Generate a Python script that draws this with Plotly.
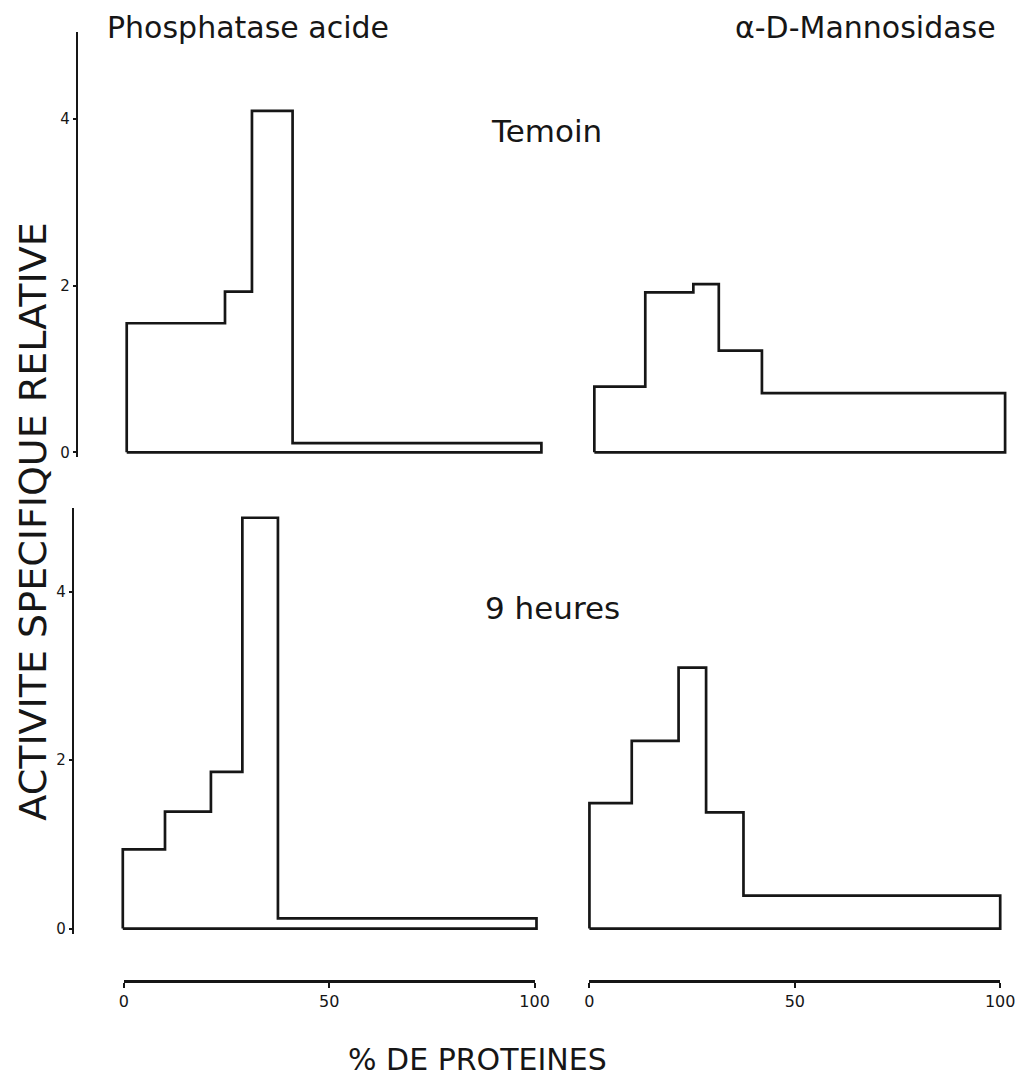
import plotly.graph_objects as go

# ---------------- data ----------------
tl_edges = [0, 23.7, 30.2, 40.0, 100]
tl_vals = [1.55, 1.93, 4.10, 0.11]

tr_edges = [0, 12.4, 24.1, 30.3, 40.8, 100]
tr_vals = [0.79, 1.92, 2.02, 1.22, 0.71]

bl_edges = [0, 10.2, 21.3, 28.9, 37.5, 100]
bl_vals = [0.94, 1.39, 1.86, 4.88, 0.12]

br_edges = [0, 10.3, 21.7, 28.4, 37.5, 100]
br_vals = [1.49, 2.23, 3.10, 1.38, 0.39]

y_ticks = [0, 2, 4]
x_ticks = [0, 50, 100]
x_ticklabels = ["0", "50", "100"]

# page is 1033x1087 with the default 8px body margin around the figure
OFF = 8
W, H = 1033 - 2 * OFF, 1087 - 2 * OFF
INK = "#161616"
FONT = "DejaVu Sans"


def px(x):
    return (x - OFF) / W


def py(y):
    return 1 - (y - OFF) / H


def outline(edges, vals):
    xs, ys = [edges[0]], [0]
    for i, v in enumerate(vals):
        xs += [edges[i], edges[i + 1]]
        ys += [v, v]
    xs += [edges[-1], edges[0]]
    ys += [0, 0]
    return xs, ys


fig = go.Figure()

panels = [
    ("x", "y", tl_edges, tl_vals),
    ("x2", "y2", tr_edges, tr_vals),
    ("x3", "y3", bl_edges, bl_vals),
    ("x4", "y4", br_edges, br_vals),
]
for xa, ya, e, v in panels:
    xs, ys = outline(e, v)
    fig.add_trace(go.Scatter(x=xs, y=ys, mode="lines", xaxis=xa, yaxis=ya,
                             line=dict(color=INK, width=2.7), hoverinfo="skip",
                             showlegend=False))

# invisible traces carrying the two percentage scales
for xa, ya in [("x5", "y5"), ("x6", "y6")]:
    fig.add_trace(go.Scatter(x=[0, 100], y=[0, 0], mode="lines", xaxis=xa, yaxis=ya,
                             line=dict(width=0), opacity=0, hoverinfo="skip",
                             showlegend=False))


def xdom(zero_px, hundred_px, lo_px, hi_px):
    s = (hundred_px - zero_px) / 100.0
    return [px(lo_px), px(hi_px)], [(lo_px - zero_px) / s, (hi_px - zero_px) / s]


def ydom(zero_px, unit_px, top_val, lo_val):
    top_px = zero_px - top_val * unit_px
    bot_px = zero_px - lo_val * unit_px
    return [py(bot_px), py(top_px)], [lo_val, top_val]


hidden_x = dict(visible=False, showgrid=False, zeroline=False)

d, r = xdom(124, 547, 118, 553)
fig.update_layout(xaxis=dict(domain=d, range=r, **hidden_x))
d, r = xdom(601, 1020, 595, 1024)
fig.update_layout(xaxis2=dict(domain=d, range=r, **hidden_x))
d, r = xdom(120, 542, 114, 548)
fig.update_layout(xaxis3=dict(domain=d, range=r, **hidden_x))
d, r = xdom(596, 1015, 590, 1021)
fig.update_layout(xaxis4=dict(domain=d, range=r, **hidden_x))

yaxis_style = dict(showgrid=False, zeroline=False, showline=True, linecolor=INK,
                   linewidth=2, ticks="outside", ticklen=3, tickwidth=2,
                   tickcolor=INK, tickvals=y_ticks,
                   tickfont=dict(family=FONT, size=15, color=INK))

d, r = ydom(454, 83.6, 5.05, -0.06)
fig.update_layout(yaxis=dict(domain=d, range=r, anchor="free", position=px(73),
                             **yaxis_style))
fig.update_layout(yaxis2=dict(domain=d, range=r, visible=False, anchor="x2"))
d, r = ydom(932, 84.5, 5.0, -0.06)
fig.update_layout(yaxis3=dict(domain=d, range=r, anchor="free", position=px(69),
                              **yaxis_style))
fig.update_layout(yaxis4=dict(domain=d, range=r, visible=False, anchor="x4"))

scale_style = dict(range=[0, 100], showgrid=False, zeroline=False, showline=True,
                   linecolor=INK, linewidth=2.5, ticks="outside", ticklen=5,
                   tickwidth=2, tickcolor=INK, tickvals=x_ticks,
                   ticktext=x_ticklabels, anchor="free", position=py(985),
                   tickfont=dict(family=FONT, size=16, color=INK))
fig.update_layout(
    xaxis5=dict(domain=[px(121), px(540)], **scale_style),
    xaxis6=dict(domain=[px(596), px(1015)], **scale_style),
    yaxis5=dict(domain=[0, 0.05], visible=False, anchor="x5"),
    yaxis6=dict(domain=[0, 0.05], visible=False, anchor="x6"),
)

ann = [
    dict(text="Phosphatase acide", x=px(248), y=py(28), xanchor="center",
         yanchor="middle", font=dict(size=30, family=FONT, color=INK)),
    dict(text="α-D-Mannosidase", x=px(878), y=py(28), xanchor="center",
         yanchor="middle", font=dict(size=30, family=FONT, color=INK)),
    dict(text="Temoin", x=px(552), y=py(131), xanchor="center",
         yanchor="middle", font=dict(size=31, family=FONT, color=INK)),
    dict(text="9 heures", x=px(558), y=py(610), xanchor="center",
         yanchor="middle", font=dict(size=31, family=FONT, color=INK)),
    dict(text="ACTIVITE SPECIFIQUE RELATIVE", x=px(28), y=py(524),
         xanchor="center", yanchor="middle", textangle=-90,
         font=dict(size=38, family=FONT, color=INK)),
    dict(text="% DE PROTEINES", x=px(482), y=py(1063), xanchor="center",
         yanchor="middle", font=dict(size=30, family=FONT, color=INK)),
]
for a in ann:
    a.update(xref="paper", yref="paper", showarrow=False)

fig.update_layout(
    width=W, height=H,
    margin=dict(l=0, r=0, t=0, b=0),
    paper_bgcolor="white",
    plot_bgcolor="rgba(0,0,0,0)",
    annotations=ann,
    showlegend=False,
)

fig.write_html("out.html")
